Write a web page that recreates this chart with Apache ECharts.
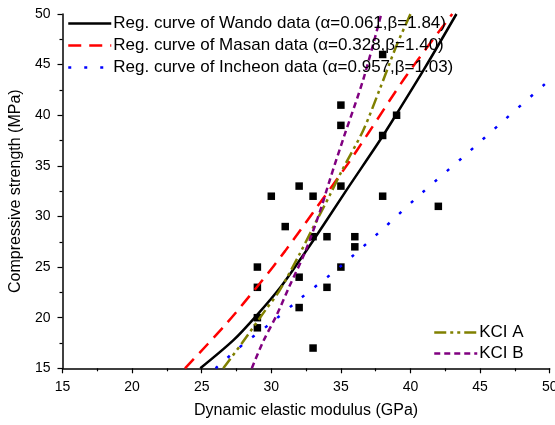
<!DOCTYPE html>
<html>
<head>
<meta charset="utf-8">
<script src="https://cdn.jsdelivr.net/npm/echarts@6/dist/echarts.min.js"></script>
<style>
html,body{margin:0;padding:0;background:#fff;}
#chart{width:555px;height:425px;}
</style>
</head>
<body>
<div id="chart"></div>
<script>
// ---- data ----
const scatterX = [29,29,29,29,30,31,32,32,32,33,33,33,34,34,35,35,35,35,36,36,38,38,38,39,42];
const scatterY = [19,20,23,25,32,29,33,24,21,32,28,17,28,23,41,39,33,25,28,27,46,38,32,40,31];

const wandoX = [24.9,27.3,29,30.6,32,33,35.4,37.7,38.9,41,43.3];
const wandoY = [15,17.8,20.3,22.9,25.6,27.6,32.6,37.3,39.9,44.6,50];

const masanX = [23.8,26.7,29.3,31,33,35.4,37,39.7,43];
const masanY = [15,19.3,23.6,26.6,30.4,35.0,38.3,43.9,50];

const incheonX = [26,28,30,32,35,37.8,40.8,43.8,46.8,50];
const incheonY = [15,17.4,19.5,21.8,25.1,28.5,32.3,35.9,39.6,43.5];

const kciAX = [26.55,27.9,29.5,30.6,32,33,34.2,35.1,36.6,37.8,39,40];
const kciAY = [15,17.5,20.6,22.7,26.2,28.9,32.1,34.6,38.5,42.6,46.9,50];

const kciBX = [28.6,29.4,30.4,31.3,32.4,33.5,34.2,35.2,36.6,37.9];
const kciBY = [15,17.6,20.3,23.1,26.4,30.5,33.6,37.8,43.5,50];

const seriesNames = [
  'Reg. curve of Wando data (\u03B1=0.061,\u03B2=1.84)',
  'Reg. curve of Masan data (\u03B1=0.328,\u03B2=1.40)',
  'Reg. curve of Incheon data (\u03B1=0.957,\u03B2=1.03)',
  'KCI A',
  'KCI B'
];
const axisMin = 15, axisMax = 50, axisStep = 5;
const xName = 'Dynamic elastic modulus (GPa)';
const yName = 'Compressive strength (MPa)';

function pairs(xs, ys){ return xs.map((x,i)=>[x, ys[i]]); }

const FONT = 'Liberation Sans, Arial, sans-serif';

function curve(name, xs, ys, color, type, width){
  return {
    name: name, type: 'line', data: pairs(xs, ys),
    smooth: 0.3, symbol: 'none', showSymbol: false, clip: true,
    lineStyle: {color: color, width: width, type: type, cap: 'butt'},
    itemStyle: {color: color},
    z: 3, silent: true
  };
}

const chart = echarts.init(document.getElementById('chart'), null, {renderer: 'canvas'});
const axisCommon = {
  type: 'value', min: axisMin, max: axisMax, interval: axisStep,
  axisLine: {show: true, onZero: false, lineStyle: {color: '#000', width: 1.5}},
  axisTick: {show: true, inside: false, length: 5, lineStyle: {color: '#000', width: 1.2}},
  minorTick: {show: true, splitNumber: 2, length: 3, lineStyle: {color: '#000', width: 1.2}},
  splitLine: {show: false},
  minorSplitLine: {show: false},
  axisLabel: {color: '#000', fontSize: 14, fontFamily: FONT},
  nameLocation: 'middle',
  nameTextStyle: {color: '#000', fontSize: 16, fontFamily: FONT}
};

const legendCommon = {
  orient: 'vertical', itemWidth: 43, itemHeight: 14, padding: 0,
  textStyle: {color: '#000', fontSize: 17, fontFamily: FONT, padding: [0,0,0,-3]},
  itemStyle: {opacity: 0, borderWidth: 0},
  lineStyle: {width: 2.5},
  selectedMode: false
};

chart.setOption({
  animation: false,
  backgroundColor: '#fff',
  grid: {left: 62.5, right: 5.3, top: 14, bottom: 56.7, containLabel: false, outerBoundsMode: 'none'},
  xAxis: Object.assign({}, axisCommon, {
    name: xName, nameGap: 34,
    axisLabel: Object.assign({}, axisCommon.axisLabel, {margin: 12})
  }),
  yAxis: Object.assign({}, axisCommon, {
    name: yName, nameGap: 33,
    axisLabel: Object.assign({}, axisCommon.axisLabel, {margin: 12})
  }),
  legend: [
    Object.assign({}, legendCommon, {data: seriesNames.slice(0,3), left: 67, top: 15, itemGap: 5}),
    Object.assign({}, legendCommon, {data: seriesNames.slice(3), left: 433, top: 324, itemGap: 4})
  ],
  series: [
    {
      type: 'scatter', data: pairs(scatterX, scatterY),
      symbol: 'rect', symbolSize: 7.5, itemStyle: {color: '#000', opacity: 1}, z: 2, silent: true
    },
    curve(seriesNames[0], wandoX, wandoY, '#000000', 'solid', 2.5),
    curve(seriesNames[1], masanX, masanY, '#ff0000', [13, 8], 2.5),
    curve(seriesNames[2], incheonX, incheonY, '#0000ff', [3, 13], 2.5),
    curve(seriesNames[3], kciAX, kciAY, '#808000', [12, 4, 3, 4, 3, 4], 2.5),
    curve(seriesNames[4], kciBX, kciBY, '#800080', [6, 4], 2.5)
  ]
});
</script>
</body>
</html>
